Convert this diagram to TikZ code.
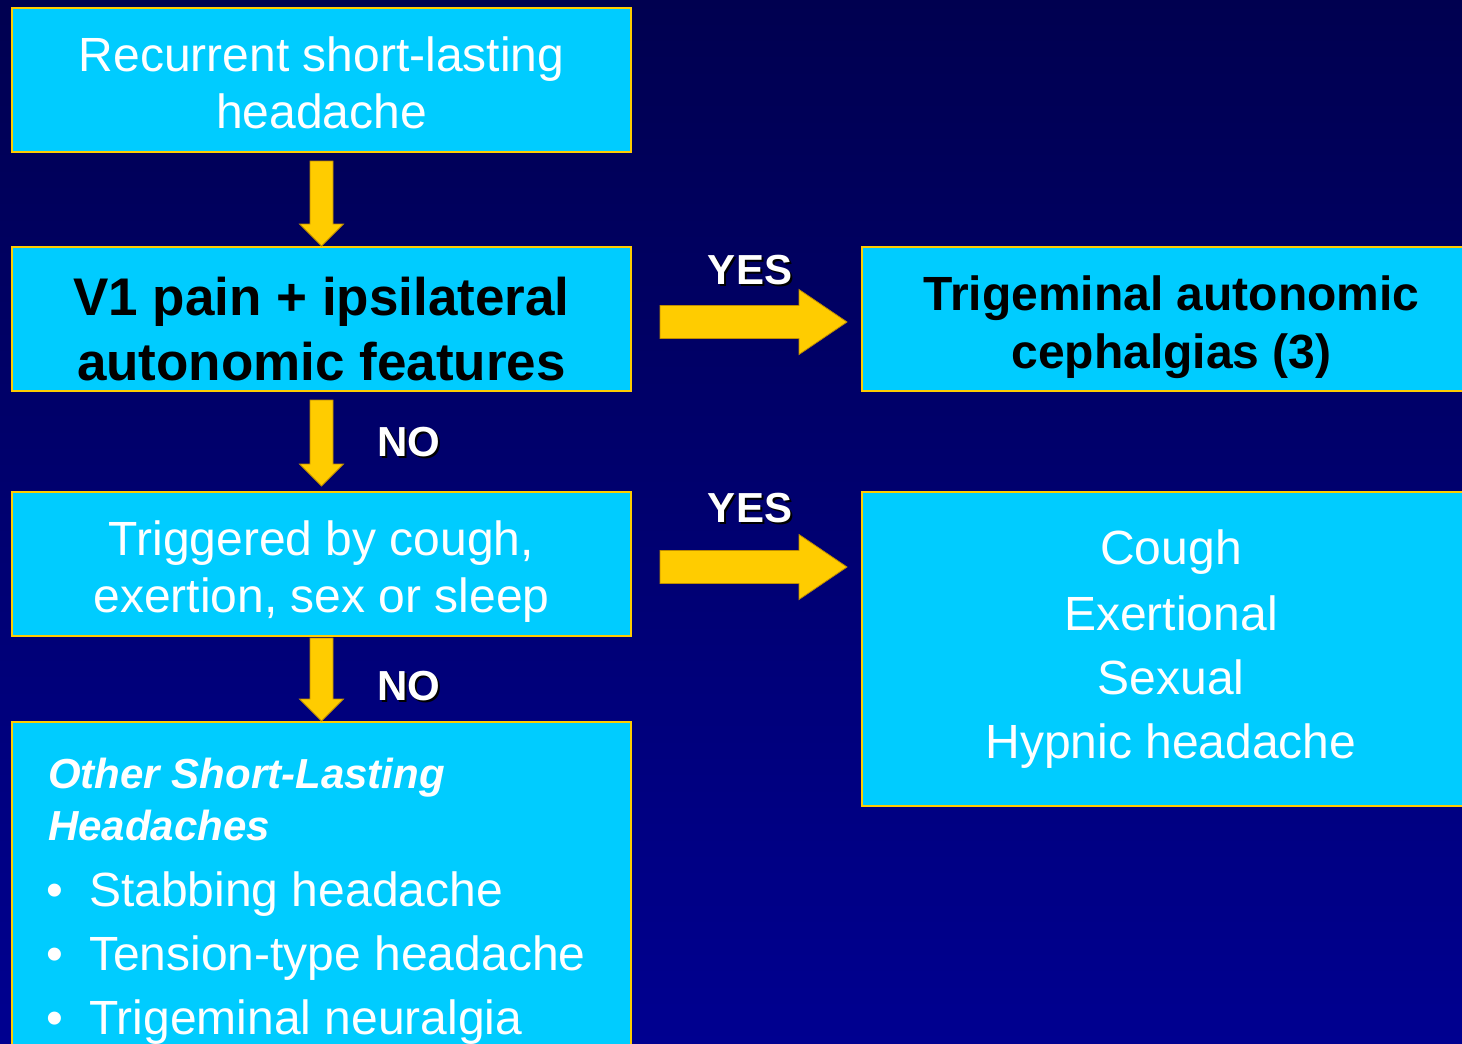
\documentclass[tikz,border=0pt]{standalone}
\usepackage{fontspec}
\setmainfont{Liberation Sans}
\usetikzlibrary{calc}
\definecolor{boxfill}{RGB}{0,204,255}
\definecolor{boxline}{RGB}{255,204,0}
\definecolor{bgtop}{RGB}{0,0,80}
\definecolor{bgbot}{RGB}{0,0,144}
\definecolor{arrowfill}{RGB}{255,204,0}
\definecolor{arrowline}{RGB}{190,140,0}
\begin{document}
\begin{tikzpicture}[x=1pt,y=-1pt,
  box/.style={draw=boxline, line width=2pt, fill=boxfill, inner sep=0pt},
  reg/.style={text=white, inner sep=0pt, anchor=base, font=\fontsize{48}{57}\selectfont},
  bld/.style={text=black, inner sep=0pt, anchor=base, font=\fontsize{48}{57}\selectfont\bfseries},
  lbl/.style={inner sep=0pt, anchor=base, font=\fontsize{42}{50}\selectfont\bfseries},
  blockarrow/.style={fill=arrowfill, draw=arrowline, line width=0.8pt, line join=miter}
]
\useasboundingbox (0,0) rectangle (1462,1044);
\clip (0,0) rectangle (1462,1044);
\shade[top color=bgtop, bottom color=bgbot] (0,0) rectangle (1462,1044);

% boxes
\node[box, minimum width=619pt, minimum height=144pt] (b1) at (321.5,80) {};
\node[box, minimum width=619pt, minimum height=144pt] (b2) at (321.5,319) {};
\node[box, minimum width=619pt, minimum height=144pt] (b3) at (321.5,564) {};
\node[box, minimum width=619pt, minimum height=338pt] (b4) at (321.5,891) {};
\node[box, minimum width=618pt, minimum height=144pt] (b5) at (1171,319) {};
\node[box, minimum width=618pt, minimum height=314pt] (b6) at (1171,649) {};

% box texts
\node[reg] (t1a) at (321.5,71) {Recurrent short-lasting};
\node[reg] (t1b) at (321.5,128) {headache};
\node[bld, font=\fontsize{53}{63}\selectfont\bfseries] (t2a) at (321.5,315) {V1 pain + ipsilateral};
\node[bld, font=\fontsize{53}{63}\selectfont\bfseries] (t2b) at (321.5,380) {autonomic features};
\node[reg] (t3a) at (321.5,555) {Triggered by cough,};
\node[reg] (t3b) at (321.5,612) {exertion, sex or sleep};
\node[bld] (t5a) at (1171.5,310) {Trigeminal autonomic};
\node[bld] (t5b) at (1171.5,368) {cephalgias (3)};
\node[reg] (t6a) at (1171,564) {Cough};
\node[reg] (t6b) at (1171,630) {Exertional};
\node[reg] (t6c) at (1171,694) {Sexual};
\node[reg] (t6d) at (1171,758) {Hypnic headache};

\node[lbl, text=white, anchor=base west, font=\fontsize{42}{50}\selectfont\bfseries\itshape] (t4a) at (48,788) {Other Short-Lasting};
\node[lbl, text=white, anchor=base west, font=\fontsize{42}{50}\selectfont\bfseries\itshape] (t4b) at (48,840) {Headaches};
\node[reg, anchor=base] (u1) at (55,906) {•};
\node[reg, anchor=base west] (t4c) at (89,906) {Stabbing headache};
\node[reg, anchor=base] (u2) at (55,970) {•};
\node[reg, anchor=base west] (t4d) at (89,970) {Tension-type headache};
\node[reg, anchor=base] (u3) at (55,1034) {•};
\node[reg, anchor=base west] (t4e) at (89,1034) {Trigeminal neuralgia};

% down arrows
\draw[blockarrow] ($(b1.south)+(-11.5,8)$) -- ($(b2.north)+(-11.5,-22)$) -- ($(b2.north)+(-22,-22)$)
  -- (b2.north) -- ($(b2.north)+(22,-22)$) -- ($(b2.north)+(11.5,-22)$) -- ($(b1.south)+(11.5,8)$) -- cycle;
\draw[blockarrow] ($(b2.south)+(-11.5,8)$) -- ($(b3.north)+(-11.5,-27)$) -- ($(b3.north)+(-22,-27)$)
  -- ($(b3.north)+(0,-5)$) -- ($(b3.north)+(22,-27)$) -- ($(b3.north)+(11.5,-27)$) -- ($(b2.south)+(11.5,8)$) -- cycle;
\draw[blockarrow] ($(b3.south)+(-11.5,1)$) -- ($(b4.north)+(-11.5,-22)$) -- ($(b4.north)+(-22,-22)$)
  -- (b4.north) -- ($(b4.north)+(22,-22)$) -- ($(b4.north)+(11.5,-22)$) -- ($(b3.south)+(11.5,1)$) -- cycle;

% right arrows
\draw[blockarrow] ($(b2.east)+(28,-13.5)$) -- ($(b5.west)+(-62,-13.5)$) -- ($(b5.west)+(-62,-29.5)$)
  -- ($(b5.west)+(-14,3)$) -- ($(b5.west)+(-62,35.5)$) -- ($(b5.west)+(-62,19.5)$) -- ($(b2.east)+(28,19.5)$) -- cycle;
\draw[blockarrow] ($(b3.east)+(28,-13.5)$) -- ($(b6.west|-b3.east)+(-62,-13.5)$) -- ($(b6.west|-b3.east)+(-62,-29.5)$)
  -- ($(b6.west|-b3.east)+(-14,3)$) -- ($(b6.west|-b3.east)+(-62,35.5)$) -- ($(b6.west|-b3.east)+(-62,19.5)$) -- ($(b3.east)+(28,19.5)$) -- cycle;

% YES / NO labels with shadow
\node[lbl, text=black] (y1s) at (752,286) {YES};
\node[lbl, text=white] (y1) at (750,284) {YES};
\node[lbl, text=black] (y2s) at (752,524) {YES};
\node[lbl, text=white] (y2) at (750,522) {YES};
\node[lbl, text=black] (n1s) at (411,458) {NO};
\node[lbl, text=white] (n1) at (409,456) {NO};
\node[lbl, text=black] (n2s) at (411,702) {NO};
\node[lbl, text=white] (n2) at (409,700) {NO};
\end{tikzpicture}
\end{document}
